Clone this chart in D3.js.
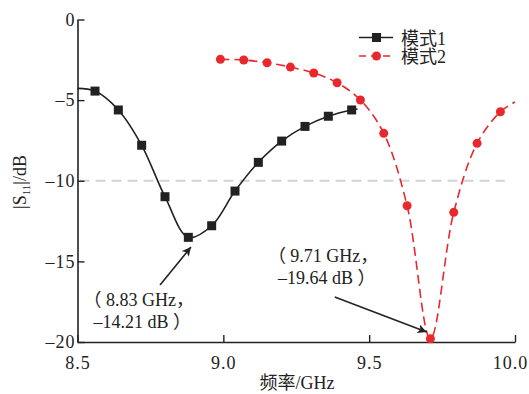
<!DOCTYPE html>
<html>
<head>
<meta charset="utf-8">
<script src="https://cdn.jsdelivr.net/npm/d3@7"></script>
<style>
  body { margin: 0; background: #fff; }
  svg text { font-family: "Liberation Serif", "Noto Sans CJK SC", serif; fill: #222; }
</style>
</head>
<body>
<div id="chart"></div>
<script>
"use strict";

// mode 1 (first and last entries are only line ends, no marker)
var mode1Freq = [8.50, 8.56, 8.64, 8.72, 8.80, 8.88, 8.96, 9.04, 9.12, 9.20, 9.28, 9.36, 9.44, 9.46];
var mode1S11 = [-4.27, -4.44, -5.61, -7.80, -10.99, -13.51, -12.79, -10.64, -8.86, -7.54, -6.63, -6.00, -5.61, -5.55];

// mode 2 (last entry is only the line end)
var mode2Freq = [8.99, 9.07, 9.15, 9.23, 9.31, 9.39, 9.47, 9.55, 9.63, 9.71, 9.79, 9.87, 9.95, 10.00];
var mode2S11 = [-2.47, -2.51, -2.68, -2.95, -3.32, -3.92, -4.99, -7.06, -11.55, -19.80, -11.96, -7.68, -5.72, -5.12];

var xTicks = [8.5, 9.0, 9.5, 10.0];
var yTicks = [0, -5, -10, -15, -20];
var seriesNames = ["模式1", "模式2"];
var threshold = -10;

var annLines = [["（ 8.83 GHz，", "–14.21 dB ）"], ["（ 9.71 GHz，", "–19.64 dB ）"]];
var annText = [[8.555, -17.77], [9.187, -15.04]];
var annTail = [[8.783, -16.47], [9.382, -17.21]];
var annTip = [[8.889, -14.11], [9.697, -19.38]];

var width = 529, height = 394;

var svg = d3.select("#chart").append("svg")
    .attr("width", width)
    .attr("height", height);

var x = d3.scaleLinear().domain([8.5, 10]).range([77.5, 515]);
var y = d3.scaleLinear().domain([-20, 0]).range([342, 19.5]);

function pts(fs, vs) {
  return fs.map(function (f, i) { return [f, vs[i]]; });
}

var line = d3.line()
    .x(function (d) { return x(d[0]); })
    .y(function (d) { return y(d[1]); })
    .curve(d3.curveCatmullRom.alpha(0.5));

// -10 dB reference
svg.append("line")
    .attr("x1", x(8.5) + 2).attr("x2", x(9.965))
    .attr("y1", y(threshold)).attr("y2", y(threshold))
    .attr("stroke", "#d4d4d4")
    .attr("stroke-width", 2)
    .attr("stroke-dasharray", "10,6");

// axes, ticks pointing inward
var xAxis = svg.append("g")
    .attr("transform", "translate(0," + y(-20) + ")")
    .call(d3.axisBottom(x).tickValues(xTicks).tickSizeInner(-7).tickSizeOuter(0)
      .tickFormat(d3.format(".1f")));
xAxis.select(".domain").attr("stroke", "#222").attr("stroke-width", 1.6);
xAxis.selectAll(".tick line").attr("stroke", "#222").attr("stroke-width", 1.4);
xAxis.selectAll(".tick text")
    .attr("y", 14)
    .attr("font-size", 18)
    .attr("letter-spacing", 1)
    .attr("dx", function (d) { return d === 10 ? -5 : 0; });

var yAxis = svg.append("g")
    .attr("transform", "translate(" + x(8.5) + ",0)")
    .call(d3.axisLeft(y).tickValues(yTicks).tickSizeInner(-7).tickSizeOuter(0)
      .tickFormat(function (d) { return d === 0 ? "0" : "–" + Math.abs(d); }));
yAxis.select(".domain").attr("stroke", "#222").attr("stroke-width", 1.6);
yAxis.selectAll(".tick line").attr("stroke", "#222").attr("stroke-width", 1.4);
yAxis.selectAll(".tick text").attr("x", -2).attr("font-size", 18).attr("letter-spacing", 1);
svg.selectAll(".tick text").attr("fill", "#222");

svg.append("text")
    .attr("x", 297).attr("y", 389)
    .attr("text-anchor", "middle")
    .attr("font-size", 18)
    .text("频率/GHz");

var yTitle = svg.append("text")
    .attr("transform", "translate(26,182) rotate(-90)")
    .attr("text-anchor", "middle")
    .attr("font-size", 18);
yTitle.append("tspan").text("|S");
yTitle.append("tspan").attr("font-size", 11).attr("dy", 4).text("11");
yTitle.append("tspan").attr("dy", -4).text("|/dB");

// curves
var red = "#e8282d";
var d1 = pts(mode1Freq, mode1S11);
var d2 = pts(mode2Freq, mode2S11);

svg.append("path")
    .attr("d", line(d1))
    .attr("fill", "none")
    .attr("stroke", "#222")
    .attr("stroke-width", 1.6);

svg.selectAll("rect.m1").data(d1.slice(1, -1)).enter().append("rect")
    .attr("class", "m1")
    .attr("x", function (d) { return x(d[0]) - 4.5; })
    .attr("y", function (d) { return y(d[1]) - 4.5; })
    .attr("width", 9).attr("height", 9)
    .attr("fill", "#222");

svg.append("path")
    .attr("d", line(d2))
    .attr("fill", "none")
    .attr("stroke", red)
    .attr("stroke-width", 1.6)
    .attr("stroke-dasharray", "9,5");

svg.selectAll("circle.m2").data(d2.slice(0, -1)).enter().append("circle")
    .attr("class", "m2")
    .attr("cx", function (d) { return x(d[0]); })
    .attr("cy", function (d) { return y(d[1]); })
    .attr("r", 4.5)
    .attr("fill", red);

// annotations
svg.append("defs").append("marker")
    .attr("id", "arrow")
    .attr("viewBox", "0 0 10 10")
    .attr("refX", 10).attr("refY", 5)
    .attr("markerWidth", 9).attr("markerHeight", 9)
    .attr("markerUnits", "userSpaceOnUse")
    .attr("orient", "auto")
  .append("path")
    .attr("d", "M0,0L10,5L0,10L2.5,5Z")
    .attr("fill", "#222");

annLines.forEach(function (lines, i) {
  var t = svg.append("text")
      .attr("y", y(annText[i][1]))
      .attr("font-size", 18);
  lines.forEach(function (s, j) {
    // the full-width bracket sits at the right of its em box
    var shift = s.charAt(0) === "（" ? -10 : 0;
    t.append("tspan")
        .attr("x", x(annText[i][0]) + shift)
        .attr("dy", j === 0 ? 0 : 22)
        .text(s);
  });
  svg.append("line")
      .attr("x1", x(annTail[i][0])).attr("y1", y(annTail[i][1]))
      .attr("x2", x(annTip[i][0])).attr("y2", y(annTip[i][1]))
      .attr("stroke", "#222")
      .attr("stroke-width", 1.6)
      .attr("marker-end", "url(#arrow)");
});

// legend
var legend = svg.append("g").attr("transform", "translate(359,0)");
[0, 1].forEach(function (i) {
  var ly = i === 0 ? 37.5 : 56;
  legend.append("line")
      .attr("x1", 0).attr("x2", 34)
      .attr("y1", ly).attr("y2", ly)
      .attr("stroke", i === 0 ? "#222" : red)
      .attr("stroke-width", 1.6)
      .attr("stroke-dasharray", i === 0 ? null : "7,5");
  if (i === 0) {
    legend.append("rect")
        .attr("x", 17.5 - 4.5).attr("y", ly - 4.5)
        .attr("width", 9).attr("height", 9)
        .attr("fill", "#222");
  } else {
    legend.append("circle")
        .attr("cx", 17.5).attr("cy", ly)
        .attr("r", 4.5)
        .attr("fill", red);
  }
  legend.append("text")
      .attr("x", 42).attr("y", ly + 7)
      .attr("font-size", 18)
      .text(seriesNames[i]);
});
</script>
</body>
</html>
